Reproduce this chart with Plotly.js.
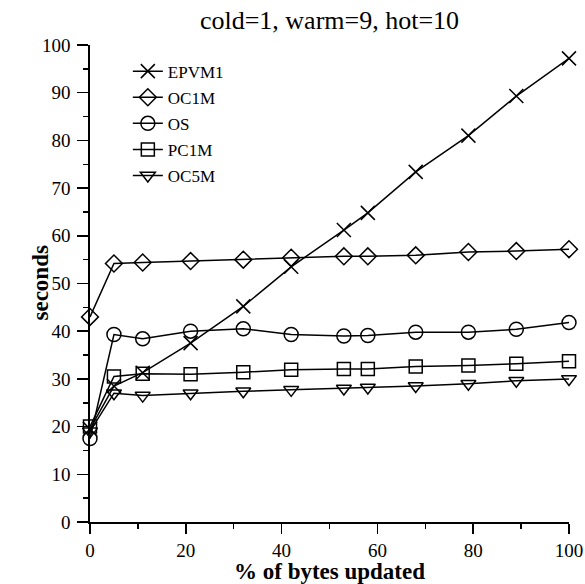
<!DOCTYPE html>
<html>
<head>
<meta charset="utf-8">
<script src="https://cdn.plot.ly/plotly-3.0.1.min.js"></script>
<style>html,body{margin:0;padding:0;background:#fff;}#chart{width:585px;height:584px;}</style>
</head>
<body>
<div id="chart"></div>
<script>
var xPct = [0, 5, 11, 21, 32, 42, 53, 58, 68, 79, 89, 100];
var seriesNames = ["EPVM1", "OC1M", "OS", "PC1M", "OC5M"];
var EPVM1 = [19.5, 28.5, 31.3, 37.5, 45.2, 53.5, 61.2, 64.8, 73.4, 81.0, 89.3, 97.2];
var OC1M = [43.0, 54.2, 54.4, 54.7, 55.0, 55.4, 55.7, 55.7, 55.9, 56.6, 56.8, 57.2];
var OS = [17.5, 39.3, 38.4, 40.0, 40.5, 39.3, 39.0, 39.1, 39.8, 39.8, 40.4, 41.8];
var PC1M = [20.0, 30.5, 31.1, 31.0, 31.4, 31.9, 32.1, 32.1, 32.6, 32.8, 33.2, 33.7];
var OC5M = [19.0, 27.0, 26.5, 27.0, 27.4, 27.7, 28.0, 28.2, 28.5, 29.0, 29.6, 30.0];
var yTickVals = [0, 10, 20, 30, 40, 50, 60, 70, 80, 90, 100];
var xTickVals = [0, 20, 40, 60, 80, 100];
var titleText = "cold=1, warm=9, hot=10";
var xTitle = "% of bytes updated";
var yTitle = "seconds";

var values = [EPVM1, OC1M, OS, PC1M, OC5M];
var symbols = ["x-thin-open", "diamond-open", "circle-open", "square-open", "triangle-down-open"];
var sizes = [14, 13, 14, 13, 13];

var font = "Liberation Serif";
var traces = values.map(function (v, i) {
  return {
    x: xPct, y: v, name: seriesNames[i], type: "scatter", mode: "lines+markers",
    legendgroup: "g" + i, cliponaxis: false,
    line: {color: "#000", width: 1.5},
    marker: {symbol: symbols[i], size: sizes[i], color: "#000", line: {color: "#000", width: 1.5}}
  };
});

var layout = {
  width: 585, height: 584,
  margin: {l: 90, r: 16, t: 45, b: 62},
  paper_bgcolor: "#fff", plot_bgcolor: "#fff",
  font: {family: font, color: "#000", size: 18},
  title: {text: titleText, font: {family: font, size: 26, color: "#000"},
          x: 0.5, xref: "paper", y: 1 - 20 / 584, yref: "container", yanchor: "middle"},
  showlegend: true,
  legend: {x: 0.079, y: 0.982, xanchor: "left", yanchor: "top", bgcolor: "rgba(0,0,0,0)",
           font: {family: font, size: 17, color: "#000"}, traceorder: "grouped", tracegroupgap: 1},
  xaxis: {
    range: [0, 100], showgrid: false, zeroline: false, showline: true, linecolor: "#000", linewidth: 1.8,
    ticks: "outside", ticklen: 10, tickwidth: 1.5, tickcolor: "#000", tickvals: xTickVals,
    tickfont: {family: font, size: 19, color: "#000"},
    minor: {dtick: 10, ticks: "outside", ticklen: 5, tickwidth: 1.5, tickcolor: "#000", showgrid: false},
    title: {text: "<b>" + xTitle + "</b>", font: {family: font, size: 23, color: "#000"}, standoff: 4}
  },
  yaxis: {
    range: [0, 100], showgrid: false, zeroline: false, showline: true, linecolor: "#000", linewidth: 1.8,
    ticks: "outside", ticklen: 11, tickwidth: 1.5, tickcolor: "#000", tickvals: yTickVals,
    ticklabelstandoff: 3,
    tickfont: {family: font, size: 19, color: "#000"},
    minor: {dtick: 5, ticks: "outside", ticklen: 5, tickwidth: 1.5, tickcolor: "#000", showgrid: false}
  },
  annotations: [{
    text: "<b>" + yTitle + "</b>", textangle: -90, showarrow: false,
    xref: "paper", yref: "paper", x: (40 - 90) / 479, y: 0.5, xanchor: "center", yanchor: "middle",
    font: {family: font, size: 23, color: "#000"}
  }]
};

Plotly.newPlot("chart", traces, layout, {displayModeBar: false, staticPlot: true});
</script>
</body>
</html>
